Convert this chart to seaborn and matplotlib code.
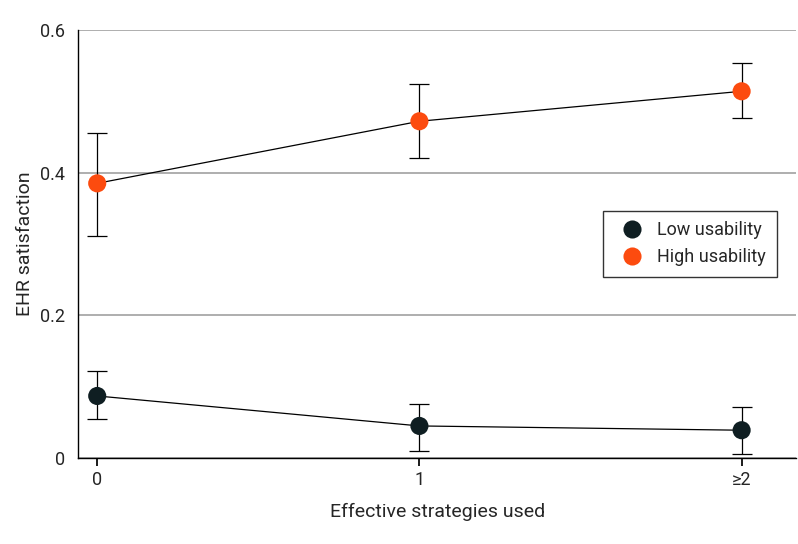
import matplotlib
matplotlib.use("Agg")
import matplotlib.pyplot as plt
import seaborn as sns
import pandas as pd
import numpy as np

sns.set_theme(style="white")
plt.rcParams['font.family'] = ['Roboto', 'DejaVu Sans']

strategies = ["0", "1", "≥2"]
low_mean = [0.087, 0.045, 0.039]
low_lo = [0.055, 0.010, 0.006]
low_hi = [0.122, 0.076, 0.072]
high_mean = [0.385, 0.472, 0.514]
high_lo = [0.311, 0.421, 0.477]
high_hi = [0.455, 0.524, 0.553]

df = pd.DataFrame({
    "x": list(range(3)) * 2,
    "mean": low_mean + high_mean,
    "group": ["Low usability"] * 3 + ["High usability"] * 3,
})

fig, ax = plt.subplots(figsize=(7.98, 5.44), dpi=100)
fig.subplots_adjust(left=0.098, right=0.998, top=0.945, bottom=0.158)

for mean, lo, hi in [(low_mean, low_lo, low_hi), (high_mean, high_lo, high_hi)]:
    x = np.arange(3)
    ax.errorbar(x, mean, yerr=[np.array(mean) - lo, np.array(hi) - mean],
                fmt="none", ecolor="black", elinewidth=0.9, capsize=7, capthick=0.9, zorder=2)
    ax.plot(x, mean, color="black", lw=0.9, zorder=2)

sns.scatterplot(data=df, x="x", y="mean", hue="group",
                palette={"Low usability": "#0f1e22", "High usability": "#fc4b0f"},
                s=170, edgecolor="none", zorder=3, ax=ax)

ax.set_xlim(-0.059, 2.17)
ax.set_ylim(0, 0.6)
ax.set_xticks(range(3))
ax.set_xticklabels(strategies)
ax.set_yticks([0, 0.2, 0.4, 0.6])
ax.set_yticklabels(["0", "0.2", "0.4", "0.6"])
ax.yaxis.grid(True, color="#a8a8a8", lw=1.3)
ax.set_axisbelow(True)
for s in ["top", "right"]:
    ax.spines[s].set_visible(False)
for s in ["left", "bottom"]:
    ax.spines[s].set_color("black")
    ax.spines[s].set_linewidth(1)
ax.tick_params(axis="x", bottom=True, length=6, color="black", labelsize=13)
ax.tick_params(axis="y", left=False, labelsize=13)
ax.set_xlabel("Effective strategies used", fontsize=14, labelpad=10)
ax.set_ylabel("EHR satisfaction", fontsize=14)

leg = ax.legend(title=None, loc="center right", bbox_to_anchor=(0.985, 0.5),
                fontsize=13, frameon=True, fancybox=False, edgecolor="black",
                markerscale=1.0, handletextpad=0.4, borderpad=0.6)
leg.get_frame().set_linewidth(1)

fig.savefig("out.png", dpi=100)
